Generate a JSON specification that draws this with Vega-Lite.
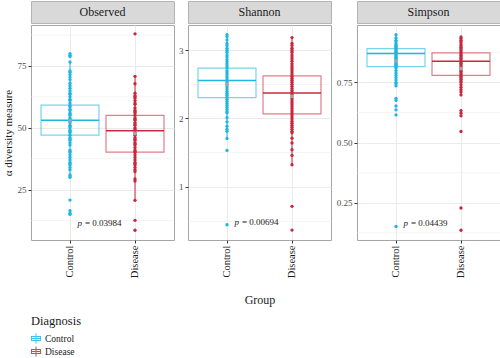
{
"$schema":"https://vega.github.io/schema/vega-lite/v6.json",
"padding":{"left":1,"top":0,"right":0,"bottom":0},
"config":{"font":"Liberation Serif","view":{"stroke":"#a6a6a6"},"concat":{"spacing":3}},
"datasets":{
"pts":[
{"m":"Observed","g":"Control","v":80},{"m":"Observed","g":"Control","v":79.3},{"m":"Observed","g":"Control","v":78.8},{"m":"Observed","g":"Control","v":76.6},{"m":"Observed","g":"Control","v":73},{"m":"Observed","g":"Control","v":72.5},{"m":"Observed","g":"Control","v":71.5},{"m":"Observed","g":"Control","v":70.5},{"m":"Observed","g":"Control","v":69.5},{"m":"Observed","g":"Control","v":68},{"m":"Observed","g":"Control","v":67},{"m":"Observed","g":"Control","v":66},{"m":"Observed","g":"Control","v":65},{"m":"Observed","g":"Control","v":64},{"m":"Observed","g":"Control","v":63.5},{"m":"Observed","g":"Control","v":62.5},{"m":"Observed","g":"Control","v":61.5},{"m":"Observed","g":"Control","v":61},{"m":"Observed","g":"Control","v":60},{"m":"Observed","g":"Control","v":59},{"m":"Observed","g":"Control","v":58.5},{"m":"Observed","g":"Control","v":57.5},{"m":"Observed","g":"Control","v":57},{"m":"Observed","g":"Control","v":56},{"m":"Observed","g":"Control","v":55.5},{"m":"Observed","g":"Control","v":55},{"m":"Observed","g":"Control","v":54},{"m":"Observed","g":"Control","v":53.5},{"m":"Observed","g":"Control","v":53},{"m":"Observed","g":"Control","v":52.5},{"m":"Observed","g":"Control","v":52},{"m":"Observed","g":"Control","v":51},{"m":"Observed","g":"Control","v":50.5},{"m":"Observed","g":"Control","v":50},{"m":"Observed","g":"Control","v":49},{"m":"Observed","g":"Control","v":48.5},{"m":"Observed","g":"Control","v":48},{"m":"Observed","g":"Control","v":47},{"m":"Observed","g":"Control","v":46},{"m":"Observed","g":"Control","v":45.5},{"m":"Observed","g":"Control","v":45},{"m":"Observed","g":"Control","v":44},{"m":"Observed","g":"Control","v":43},{"m":"Observed","g":"Control","v":41},{"m":"Observed","g":"Control","v":40.5},{"m":"Observed","g":"Control","v":40},{"m":"Observed","g":"Control","v":39},{"m":"Observed","g":"Control","v":38},{"m":"Observed","g":"Control","v":37},{"m":"Observed","g":"Control","v":36},{"m":"Observed","g":"Control","v":35.5},{"m":"Observed","g":"Control","v":35},{"m":"Observed","g":"Control","v":34},{"m":"Observed","g":"Control","v":33},{"m":"Observed","g":"Control","v":31},{"m":"Observed","g":"Control","v":30.5},{"m":"Observed","g":"Control","v":30},{"m":"Observed","g":"Control","v":20.8},{"m":"Observed","g":"Control","v":16.5},{"m":"Observed","g":"Control","v":15.5},{"m":"Observed","g":"Control","v":15},
{"m":"Observed","g":"Disease","v":88},{"m":"Observed","g":"Disease","v":70.8},{"m":"Observed","g":"Disease","v":67.8},{"m":"Observed","g":"Disease","v":64},{"m":"Observed","g":"Disease","v":63},{"m":"Observed","g":"Disease","v":62.5},{"m":"Observed","g":"Disease","v":62},{"m":"Observed","g":"Disease","v":61},{"m":"Observed","g":"Disease","v":60},{"m":"Observed","g":"Disease","v":59.5},{"m":"Observed","g":"Disease","v":58},{"m":"Observed","g":"Disease","v":57},{"m":"Observed","g":"Disease","v":56.5},{"m":"Observed","g":"Disease","v":56},{"m":"Observed","g":"Disease","v":55},{"m":"Observed","g":"Disease","v":54},{"m":"Observed","g":"Disease","v":53.5},{"m":"Observed","g":"Disease","v":53},{"m":"Observed","g":"Disease","v":52},{"m":"Observed","g":"Disease","v":51.5},{"m":"Observed","g":"Disease","v":51},{"m":"Observed","g":"Disease","v":50},{"m":"Observed","g":"Disease","v":49.5},{"m":"Observed","g":"Disease","v":49},{"m":"Observed","g":"Disease","v":48},{"m":"Observed","g":"Disease","v":47.5},{"m":"Observed","g":"Disease","v":47},{"m":"Observed","g":"Disease","v":46},{"m":"Observed","g":"Disease","v":45.5},{"m":"Observed","g":"Disease","v":45},{"m":"Observed","g":"Disease","v":44},{"m":"Observed","g":"Disease","v":43.5},{"m":"Observed","g":"Disease","v":43},{"m":"Observed","g":"Disease","v":42},{"m":"Observed","g":"Disease","v":41},{"m":"Observed","g":"Disease","v":40.5},{"m":"Observed","g":"Disease","v":40},{"m":"Observed","g":"Disease","v":39},{"m":"Observed","g":"Disease","v":38},{"m":"Observed","g":"Disease","v":37},{"m":"Observed","g":"Disease","v":36},{"m":"Observed","g":"Disease","v":35.5},{"m":"Observed","g":"Disease","v":35},{"m":"Observed","g":"Disease","v":34},{"m":"Observed","g":"Disease","v":33},{"m":"Observed","g":"Disease","v":32.3},{"m":"Observed","g":"Disease","v":29.3},{"m":"Observed","g":"Disease","v":28.5},{"m":"Observed","g":"Disease","v":20.7},{"m":"Observed","g":"Disease","v":12.6},{"m":"Observed","g":"Disease","v":8.6},
{"m":"Shannon","g":"Control","v":3.23},{"m":"Shannon","g":"Control","v":3.2},{"m":"Shannon","g":"Control","v":3.15},{"m":"Shannon","g":"Control","v":3.1},{"m":"Shannon","g":"Control","v":3.07},{"m":"Shannon","g":"Control","v":3.03},{"m":"Shannon","g":"Control","v":3.0},{"m":"Shannon","g":"Control","v":2.97},{"m":"Shannon","g":"Control","v":2.93},{"m":"Shannon","g":"Control","v":2.9},{"m":"Shannon","g":"Control","v":2.86},{"m":"Shannon","g":"Control","v":2.83},{"m":"Shannon","g":"Control","v":2.8},{"m":"Shannon","g":"Control","v":2.77},{"m":"Shannon","g":"Control","v":2.74},{"m":"Shannon","g":"Control","v":2.7},{"m":"Shannon","g":"Control","v":2.67},{"m":"Shannon","g":"Control","v":2.64},{"m":"Shannon","g":"Control","v":2.61},{"m":"Shannon","g":"Control","v":2.58},{"m":"Shannon","g":"Control","v":2.55},{"m":"Shannon","g":"Control","v":2.52},{"m":"Shannon","g":"Control","v":2.49},{"m":"Shannon","g":"Control","v":2.46},{"m":"Shannon","g":"Control","v":2.43},{"m":"Shannon","g":"Control","v":2.4},{"m":"Shannon","g":"Control","v":2.37},{"m":"Shannon","g":"Control","v":2.34},{"m":"Shannon","g":"Control","v":2.31},{"m":"Shannon","g":"Control","v":2.28},{"m":"Shannon","g":"Control","v":2.25},{"m":"Shannon","g":"Control","v":2.22},{"m":"Shannon","g":"Control","v":2.19},{"m":"Shannon","g":"Control","v":2.16},{"m":"Shannon","g":"Control","v":2.13},{"m":"Shannon","g":"Control","v":2.1},{"m":"Shannon","g":"Control","v":2.08},{"m":"Shannon","g":"Control","v":2.01},{"m":"Shannon","g":"Control","v":1.95},{"m":"Shannon","g":"Control","v":1.885},{"m":"Shannon","g":"Control","v":1.84},{"m":"Shannon","g":"Control","v":1.81},{"m":"Shannon","g":"Control","v":1.705},{"m":"Shannon","g":"Control","v":1.53},{"m":"Shannon","g":"Control","v":0.44},
{"m":"Shannon","g":"Disease","v":3.185},{"m":"Shannon","g":"Disease","v":3.1},{"m":"Shannon","g":"Disease","v":3.07},{"m":"Shannon","g":"Disease","v":3.03},{"m":"Shannon","g":"Disease","v":3.0},{"m":"Shannon","g":"Disease","v":2.97},{"m":"Shannon","g":"Disease","v":2.93},{"m":"Shannon","g":"Disease","v":2.9},{"m":"Shannon","g":"Disease","v":2.87},{"m":"Shannon","g":"Disease","v":2.84},{"m":"Shannon","g":"Disease","v":2.8},{"m":"Shannon","g":"Disease","v":2.77},{"m":"Shannon","g":"Disease","v":2.74},{"m":"Shannon","g":"Disease","v":2.71},{"m":"Shannon","g":"Disease","v":2.68},{"m":"Shannon","g":"Disease","v":2.65},{"m":"Shannon","g":"Disease","v":2.62},{"m":"Shannon","g":"Disease","v":2.59},{"m":"Shannon","g":"Disease","v":2.56},{"m":"Shannon","g":"Disease","v":2.53},{"m":"Shannon","g":"Disease","v":2.5},{"m":"Shannon","g":"Disease","v":2.47},{"m":"Shannon","g":"Disease","v":2.44},{"m":"Shannon","g":"Disease","v":2.41},{"m":"Shannon","g":"Disease","v":2.38},{"m":"Shannon","g":"Disease","v":2.35},{"m":"Shannon","g":"Disease","v":2.32},{"m":"Shannon","g":"Disease","v":2.29},{"m":"Shannon","g":"Disease","v":2.26},{"m":"Shannon","g":"Disease","v":2.23},{"m":"Shannon","g":"Disease","v":2.2},{"m":"Shannon","g":"Disease","v":2.17},{"m":"Shannon","g":"Disease","v":2.14},{"m":"Shannon","g":"Disease","v":2.11},{"m":"Shannon","g":"Disease","v":2.08},{"m":"Shannon","g":"Disease","v":2.05},{"m":"Shannon","g":"Disease","v":2.02},{"m":"Shannon","g":"Disease","v":1.99},{"m":"Shannon","g":"Disease","v":1.96},{"m":"Shannon","g":"Disease","v":1.93},{"m":"Shannon","g":"Disease","v":1.9},{"m":"Shannon","g":"Disease","v":1.87},{"m":"Shannon","g":"Disease","v":1.84},{"m":"Shannon","g":"Disease","v":1.81},{"m":"Shannon","g":"Disease","v":1.79},{"m":"Shannon","g":"Disease","v":1.71},{"m":"Shannon","g":"Disease","v":1.64},{"m":"Shannon","g":"Disease","v":1.54},{"m":"Shannon","g":"Disease","v":1.457},{"m":"Shannon","g":"Disease","v":1.32},{"m":"Shannon","g":"Disease","v":0.71},{"m":"Shannon","g":"Disease","v":0.362},
{"m":"Simpson","g":"Control","v":0.948},{"m":"Simpson","g":"Control","v":0.935},{"m":"Simpson","g":"Control","v":0.925},{"m":"Simpson","g":"Control","v":0.918},{"m":"Simpson","g":"Control","v":0.91},{"m":"Simpson","g":"Control","v":0.905},{"m":"Simpson","g":"Control","v":0.9},{"m":"Simpson","g":"Control","v":0.895},{"m":"Simpson","g":"Control","v":0.89},{"m":"Simpson","g":"Control","v":0.885},{"m":"Simpson","g":"Control","v":0.88},{"m":"Simpson","g":"Control","v":0.875},{"m":"Simpson","g":"Control","v":0.87},{"m":"Simpson","g":"Control","v":0.865},{"m":"Simpson","g":"Control","v":0.86},{"m":"Simpson","g":"Control","v":0.855},{"m":"Simpson","g":"Control","v":0.85},{"m":"Simpson","g":"Control","v":0.845},{"m":"Simpson","g":"Control","v":0.84},{"m":"Simpson","g":"Control","v":0.835},{"m":"Simpson","g":"Control","v":0.83},{"m":"Simpson","g":"Control","v":0.825},{"m":"Simpson","g":"Control","v":0.82},{"m":"Simpson","g":"Control","v":0.815},{"m":"Simpson","g":"Control","v":0.81},{"m":"Simpson","g":"Control","v":0.8},{"m":"Simpson","g":"Control","v":0.79},{"m":"Simpson","g":"Control","v":0.78},{"m":"Simpson","g":"Control","v":0.77},{"m":"Simpson","g":"Control","v":0.76},{"m":"Simpson","g":"Control","v":0.75},{"m":"Simpson","g":"Control","v":0.745},{"m":"Simpson","g":"Control","v":0.736},{"m":"Simpson","g":"Control","v":0.684},{"m":"Simpson","g":"Control","v":0.675},{"m":"Simpson","g":"Control","v":0.652},{"m":"Simpson","g":"Control","v":0.636},{"m":"Simpson","g":"Control","v":0.615},{"m":"Simpson","g":"Control","v":0.151},
{"m":"Simpson","g":"Disease","v":0.939},{"m":"Simpson","g":"Disease","v":0.932},{"m":"Simpson","g":"Disease","v":0.925},{"m":"Simpson","g":"Disease","v":0.918},{"m":"Simpson","g":"Disease","v":0.91},{"m":"Simpson","g":"Disease","v":0.903},{"m":"Simpson","g":"Disease","v":0.896},{"m":"Simpson","g":"Disease","v":0.89},{"m":"Simpson","g":"Disease","v":0.883},{"m":"Simpson","g":"Disease","v":0.876},{"m":"Simpson","g":"Disease","v":0.87},{"m":"Simpson","g":"Disease","v":0.863},{"m":"Simpson","g":"Disease","v":0.856},{"m":"Simpson","g":"Disease","v":0.85},{"m":"Simpson","g":"Disease","v":0.843},{"m":"Simpson","g":"Disease","v":0.836},{"m":"Simpson","g":"Disease","v":0.83},{"m":"Simpson","g":"Disease","v":0.823},{"m":"Simpson","g":"Disease","v":0.816},{"m":"Simpson","g":"Disease","v":0.81},{"m":"Simpson","g":"Disease","v":0.803},{"m":"Simpson","g":"Disease","v":0.796},{"m":"Simpson","g":"Disease","v":0.79},{"m":"Simpson","g":"Disease","v":0.783},{"m":"Simpson","g":"Disease","v":0.776},{"m":"Simpson","g":"Disease","v":0.77},{"m":"Simpson","g":"Disease","v":0.763},{"m":"Simpson","g":"Disease","v":0.756},{"m":"Simpson","g":"Disease","v":0.75},{"m":"Simpson","g":"Disease","v":0.74},{"m":"Simpson","g":"Disease","v":0.73},{"m":"Simpson","g":"Disease","v":0.72},{"m":"Simpson","g":"Disease","v":0.71},{"m":"Simpson","g":"Disease","v":0.698},{"m":"Simpson","g":"Disease","v":0.633},{"m":"Simpson","g":"Disease","v":0.622},{"m":"Simpson","g":"Disease","v":0.611},{"m":"Simpson","g":"Disease","v":0.546},{"m":"Simpson","g":"Disease","v":0.228},{"m":"Simpson","g":"Disease","v":0.1356}
],
"box":[
{"m":"Observed","g":"Control","lo":30,"q1":47.05,"med":53.1,"q3":59.2,"hi":76.6,"mean":52.8},
{"m":"Observed","g":"Disease","lo":20.7,"q1":40.2,"med":48.8,"q3":55.0,"hi":70.8,"mean":47.7},
{"m":"Shannon","g":"Control","lo":1.705,"q1":2.304,"med":2.557,"q3":2.737,"hi":3.23,"mean":2.50},
{"m":"Shannon","g":"Disease","lo":1.32,"q1":2.066,"med":2.372,"q3":2.625,"hi":3.185,"mean":2.324},
{"m":"Simpson","g":"Control","lo":0.736,"q1":0.816,"med":0.870,"q3":0.8905,"hi":0.948,"mean":0.8397},
{"m":"Simpson","g":"Disease","lo":0.698,"q1":0.779,"med":0.838,"q3":0.873,"hi":0.939,"mean":0.808}
],
"minor":[
{"m":"Observed","y":12.5},{"m":"Observed","y":37.5},{"m":"Observed","y":62.5},{"m":"Observed","y":87.5},
{"m":"Simpson","y":0.125},{"m":"Simpson","y":0.375},{"m":"Simpson","y":0.625},{"m":"Simpson","y":0.875}
],
"pv":[
{"m":"Observed","g":"Control","y":11.7,"p":"p","txt":"= 0.03984"},
{"m":"Shannon","g":"Control","y":0.475,"p":"p","txt":"= 0.00694"},
{"m":"Simpson","g":"Control","y":0.164,"p":"p","txt":"= 0.04439"}
]
},
"hconcat":[
{"spacing":0,"vconcat":[
 {"width":143,"height":22,"view":{"fill":"#d9d9d9","stroke":"#b3b3b3"},"data":{"values":[{"t":"Observed"}]},"mark":{"type":"text","fontSize":12,"color":"#1a1a1a"},"encoding":{"text":{"field":"t","type":"nominal"}}},
 {"width":143,"height":215,
  "encoding":{
   "color":{"field":"g","type":"nominal","scale":{"domain":["Control","Disease"],"range":["#1fb6e0","#c8283d"]},
     "legend":{"title":"Diagnosis","orient":"bottom","direction":"vertical","offset":8,"padding":0,"symbolType":"M-1,-0.5H1V0.5H-1Z M-0.8,-0.3V0.3H0.8V-0.3Z M-0.8,-0.08H0.8V0.08H-0.8Z M-0.1,-1H0.1V-0.5H-0.1Z M-0.1,0.5H0.1V1H-0.1Z M-0.22,-0.22H0.22V0.22H-0.22Z","symbolSize":100,"symbolStrokeWidth":0,"symbolOpacity":0.85,"titleFontSize":12.5,"titleFontWeight":"normal","titleColor":"#1a1a1a","titlePadding":6,"labelFontSize":9.5,"labelColor":"#1a1a1a","rowPadding":3}}
  },
  "layer":[
   {"data":{"name":"minor"},"transform":[{"filter":"datum.m=='Observed'"}],"mark":{"type":"rule","strokeWidth":0.5},
    "encoding":{
     "y":{"field":"y","type":"quantitative","scale":{"domain":[4.65,91.55],"nice":false,"zero":false},
      "axis":{"title":"α diversity measure","titleFontSize":11,"titleFontWeight":"normal","titleColor":"#1a1a1a","titlePadding":4,"values":[25,50,75],"format":"d","labelOverlap":false,"labelFontSize":9,"labelColor":"#4d4d4d","tickSize":3,"tickColor":"#333333","domain":false,"grid":true,"gridWidth":1,"gridColor":"#ebebeb","labelPadding":2}},
     "color":{"value":"#ebebeb"}}},
   {"data":{"name":"box"},"transform":[{"filter":"datum.m=='Observed'"}],"mark":{"type":"rule","strokeWidth":1},
    "encoding":{"x":{"field":"g","type":"nominal","scale":{"type":"band","domain":["Control","Disease"],"paddingInner":0.108,"paddingOuter":0.154},
      "axis":{"title":null,"labelAngle":-90,"labelFontSize":10.5,"labelColor":"#1a1a1a","labelPadding":2,"tickColor":"#333333","tickSize":3,"domain":false,"grid":true,"gridColor":"#ebebeb","bandPosition":0.5}},
     "y":{"field":"lo","type":"quantitative"},"y2":{"field":"q1"}}},
   {"data":{"name":"box"},"transform":[{"filter":"datum.m=='Observed'"}],"mark":{"type":"rule","strokeWidth":1},
    "encoding":{"x":{"field":"g","type":"nominal"},"y":{"field":"q3","type":"quantitative"},"y2":{"field":"hi"}}},
   {"data":{"name":"box"},"transform":[{"filter":"datum.m=='Observed'"}],"mark":{"type":"bar","filled":false,"strokeWidth":1.2,"strokeOpacity":0.6},
    "encoding":{"x":{"field":"g","type":"nominal"},"y":{"field":"q1","type":"quantitative"},"y2":{"field":"q3"}}},
   {"data":{"name":"box"},"transform":[{"filter":"datum.m=='Observed'"}],"mark":{"type":"rule","strokeWidth":1.5},
    "encoding":{"x":{"field":"g","type":"nominal","bandPosition":0},"x2":{"field":"g","bandPosition":1},"y":{"field":"med","type":"quantitative"}}},
   {"data":{"name":"pts"},"transform":[{"filter":"datum.m=='Observed'"}],"mark":{"type":"point","filled":true,"size":11,"opacity":1},
    "encoding":{"x":{"field":"g","type":"nominal"},"y":{"field":"v","type":"quantitative"}}},
   {"data":{"name":"box"},"transform":[{"filter":"datum.m=='Observed'"}],"mark":{"type":"point","filled":true,"size":14,"opacity":1},
    "encoding":{"x":{"field":"g","type":"nominal"},"y":{"field":"mean","type":"quantitative"},"color":{"value":"#a6a6a6"}}},
   {"data":{"name":"pv"},"transform":[{"filter":"datum.m=='Observed'"}],"mark":{"type":"text","fontSize":9,"fontStyle":"italic","align":"right","dx":-17},
    "encoding":{"x":{"field":"g","type":"nominal","bandPosition":1},"y":{"field":"y","type":"quantitative"},"text":{"field":"p"},"color":{"value":"#1a1a1a"}}},
   {"data":{"name":"pv"},"transform":[{"filter":"datum.m=='Observed'"}],"mark":{"type":"text","fontSize":9,"align":"left","dx":-14},
    "encoding":{"x":{"field":"g","type":"nominal","bandPosition":1},"y":{"field":"y","type":"quantitative"},"text":{"field":"txt"},"color":{"value":"#1a1a1a"}}}
  ]}
]},
{"spacing":0,"vconcat":[
 {"width":143,"height":22,"view":{"fill":"#d9d9d9","stroke":"#b3b3b3"},"data":{"values":[{"t":"Shannon"}]},"mark":{"type":"text","fontSize":12,"color":"#1a1a1a"},"encoding":{"text":{"field":"t","type":"nominal"}}},
 {"width":143,"height":215,
  "encoding":{
   "x":{"field":"g","type":"nominal","scale":{"type":"band","domain":["Control","Disease"],"paddingInner":0.108,"paddingOuter":0.154},
      "axis":{"title":"Group","titleFontSize":12,"titleFontWeight":"normal","titleColor":"#1a1a1a","titlePadding":17,"labelAngle":-90,"labelFontSize":10.5,"labelColor":"#1a1a1a","labelPadding":2,"tickColor":"#333333","tickSize":3,"domain":false,"grid":true,"gridColor":"#ebebeb","bandPosition":0.5}},
   "color":{"field":"g","type":"nominal","scale":{"domain":["Control","Disease"],"range":["#1fb6e0","#c8283d"]},
     "legend":{"title":"Diagnosis","orient":"bottom","direction":"vertical","offset":8,"padding":0,"symbolType":"M-1,-0.5H1V0.5H-1Z M-0.8,-0.3V0.3H0.8V-0.3Z M-0.8,-0.08H0.8V0.08H-0.8Z M-0.1,-1H0.1V-0.5H-0.1Z M-0.1,0.5H0.1V1H-0.1Z M-0.22,-0.22H0.22V0.22H-0.22Z","symbolSize":100,"symbolStrokeWidth":0,"symbolOpacity":0.85,"titleFontSize":12.5,"titleFontWeight":"normal","titleColor":"#1a1a1a","titlePadding":6,"labelFontSize":9.5,"labelColor":"#1a1a1a","rowPadding":3}}
  },
  "layer":[
   {"data":{"name":"box"},"transform":[{"filter":"datum.m=='Shannon'"}],"mark":{"type":"rule","strokeWidth":1},
    "encoding":{
     "y":{"field":"lo","type":"quantitative","scale":{"domain":[0.2165,3.37],"nice":false,"zero":false},
      "axis":{"title":null,"values":[0.5,1,1.5,2,2.5,3],"labelOverlap":false,"labelExpr":"datum.value % 1 == 0 ? format(datum.value,'d') : ''","tickOpacity":{"condition":{"test":"datum.value % 1 == 0","value":1},"value":0},"gridWidth":{"condition":{"test":"datum.value % 1 == 0","value":1},"value":0.5},"labelFontSize":9,"labelColor":"#4d4d4d","tickSize":3,"tickColor":"#333333","domain":false,"gridColor":"#ebebeb","labelPadding":2}},
     "y2":{"field":"q1"}}},
   {"data":{"name":"box"},"transform":[{"filter":"datum.m=='Shannon'"}],"mark":{"type":"rule","strokeWidth":1},
    "encoding":{"y":{"field":"q3","type":"quantitative"},"y2":{"field":"hi"}}},
   {"data":{"name":"box"},"transform":[{"filter":"datum.m=='Shannon'"}],"mark":{"type":"bar","filled":false,"strokeWidth":1.2,"strokeOpacity":0.6},
    "encoding":{"y":{"field":"q1","type":"quantitative"},"y2":{"field":"q3"}}},
   {"data":{"name":"box"},"transform":[{"filter":"datum.m=='Shannon'"}],"mark":{"type":"rule","strokeWidth":1.5},
    "encoding":{"x":{"field":"g","type":"nominal","bandPosition":0},"x2":{"field":"g","bandPosition":1},"y":{"field":"med","type":"quantitative"}}},
   {"data":{"name":"pts"},"transform":[{"filter":"datum.m=='Shannon'"}],"mark":{"type":"point","filled":true,"size":11,"opacity":1},
    "encoding":{"y":{"field":"v","type":"quantitative"}}},
   {"data":{"name":"box"},"transform":[{"filter":"datum.m=='Shannon'"}],"mark":{"type":"point","filled":true,"size":14,"opacity":1},
    "encoding":{"y":{"field":"mean","type":"quantitative"},"color":{"value":"#a6a6a6"}}},
   {"data":{"name":"pv"},"transform":[{"filter":"datum.m=='Shannon'"}],"mark":{"type":"text","fontSize":9,"fontStyle":"italic","align":"right","dx":-17},
    "encoding":{"x":{"field":"g","type":"nominal","bandPosition":1},"y":{"field":"y","type":"quantitative"},"text":{"field":"p"},"color":{"value":"#1a1a1a"}}},
   {"data":{"name":"pv"},"transform":[{"filter":"datum.m=='Shannon'"}],"mark":{"type":"text","fontSize":9,"align":"left","dx":-14},
    "encoding":{"x":{"field":"g","type":"nominal","bandPosition":1},"y":{"field":"y","type":"quantitative"},"text":{"field":"txt"},"color":{"value":"#1a1a1a"}}}
  ]}
]},
{"spacing":0,"vconcat":[
 {"width":143,"height":22,"view":{"fill":"#d9d9d9","stroke":"#b3b3b3"},"data":{"values":[{"t":"Simpson"}]},"mark":{"type":"text","fontSize":12,"color":"#1a1a1a"},"encoding":{"text":{"field":"t","type":"nominal"}}},
 {"width":143,"height":215,
  "encoding":{
   "color":{"field":"g","type":"nominal","scale":{"domain":["Control","Disease"],"range":["#1fb6e0","#c8283d"]},
     "legend":{"title":"Diagnosis","orient":"bottom","direction":"vertical","offset":8,"padding":0,"symbolType":"M-1,-0.5H1V0.5H-1Z M-0.8,-0.3V0.3H0.8V-0.3Z M-0.8,-0.08H0.8V0.08H-0.8Z M-0.1,-1H0.1V-0.5H-0.1Z M-0.1,0.5H0.1V1H-0.1Z M-0.22,-0.22H0.22V0.22H-0.22Z","symbolSize":100,"symbolStrokeWidth":0,"symbolOpacity":0.85,"titleFontSize":12.5,"titleFontWeight":"normal","titleColor":"#1a1a1a","titlePadding":6,"labelFontSize":9.5,"labelColor":"#1a1a1a","rowPadding":3}}
  },
  "layer":[
   {"data":{"name":"minor"},"transform":[{"filter":"datum.m=='Simpson'"}],"mark":{"type":"rule","strokeWidth":0.5},
    "encoding":{
     "y":{"field":"y","type":"quantitative","scale":{"domain":[0.095,0.9886],"nice":false,"zero":false},
      "axis":{"title":null,"values":[0.25,0.5,0.75],"format":".2f","labelOverlap":false,"labelFontSize":9,"labelColor":"#4d4d4d","tickSize":3,"tickColor":"#333333","domain":false,"grid":true,"gridWidth":1,"gridColor":"#ebebeb","labelPadding":2}},
     "color":{"value":"#ebebeb"}}},
   {"data":{"name":"box"},"transform":[{"filter":"datum.m=='Simpson'"}],"mark":{"type":"rule","strokeWidth":1},
    "encoding":{"x":{"field":"g","type":"nominal","scale":{"type":"band","domain":["Control","Disease"],"paddingInner":0.108,"paddingOuter":0.154},
      "axis":{"title":null,"labelAngle":-90,"labelFontSize":10.5,"labelColor":"#1a1a1a","labelPadding":2,"tickColor":"#333333","tickSize":3,"domain":false,"grid":true,"gridColor":"#ebebeb","bandPosition":0.5}},
     "y":{"field":"lo","type":"quantitative"},"y2":{"field":"q1"}}},
   {"data":{"name":"box"},"transform":[{"filter":"datum.m=='Simpson'"}],"mark":{"type":"rule","strokeWidth":1},
    "encoding":{"x":{"field":"g","type":"nominal"},"y":{"field":"q3","type":"quantitative"},"y2":{"field":"hi"}}},
   {"data":{"name":"box"},"transform":[{"filter":"datum.m=='Simpson'"}],"mark":{"type":"bar","filled":false,"strokeWidth":1.2,"strokeOpacity":0.6},
    "encoding":{"x":{"field":"g","type":"nominal"},"y":{"field":"q1","type":"quantitative"},"y2":{"field":"q3"}}},
   {"data":{"name":"box"},"transform":[{"filter":"datum.m=='Simpson'"}],"mark":{"type":"rule","strokeWidth":1.5},
    "encoding":{"x":{"field":"g","type":"nominal","bandPosition":0},"x2":{"field":"g","bandPosition":1},"y":{"field":"med","type":"quantitative"}}},
   {"data":{"name":"pts"},"transform":[{"filter":"datum.m=='Simpson'"}],"mark":{"type":"point","filled":true,"size":11,"opacity":1},
    "encoding":{"x":{"field":"g","type":"nominal"},"y":{"field":"v","type":"quantitative"}}},
   {"data":{"name":"box"},"transform":[{"filter":"datum.m=='Simpson'"}],"mark":{"type":"point","filled":true,"size":14,"opacity":1},
    "encoding":{"x":{"field":"g","type":"nominal"},"y":{"field":"mean","type":"quantitative"},"color":{"value":"#a6a6a6"}}},
   {"data":{"name":"pv"},"transform":[{"filter":"datum.m=='Simpson'"}],"mark":{"type":"text","fontSize":9,"fontStyle":"italic","align":"right","dx":-17},
    "encoding":{"x":{"field":"g","type":"nominal","bandPosition":1},"y":{"field":"y","type":"quantitative"},"text":{"field":"p"},"color":{"value":"#1a1a1a"}}},
   {"data":{"name":"pv"},"transform":[{"filter":"datum.m=='Simpson'"}],"mark":{"type":"text","fontSize":9,"align":"left","dx":-14},
    "encoding":{"x":{"field":"g","type":"nominal","bandPosition":1},"y":{"field":"y","type":"quantitative"},"text":{"field":"txt"},"color":{"value":"#1a1a1a"}}}
  ]}
]}
]
}
